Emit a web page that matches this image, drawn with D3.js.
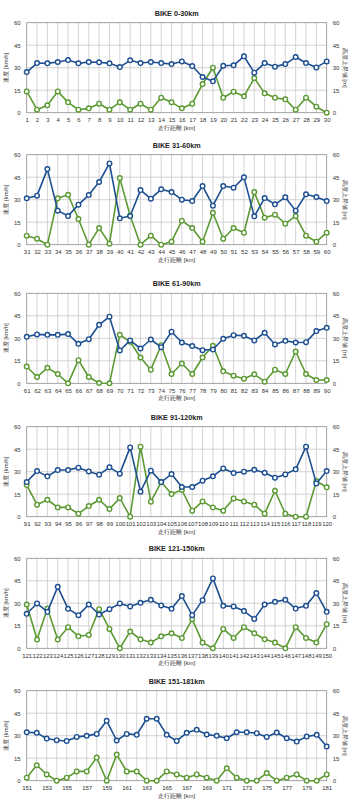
<!DOCTYPE html>
<html><head><meta charset="utf-8">
<script src="https://cdn.jsdelivr.net/npm/d3@7"></script>
<style>body{margin:0;background:#fff}svg{display:block}</style>
</head><body>
<script>
const panelTitles = ["BIKE 0-30km","BIKE 31-60km","BIKE 61-90km","BIKE 91-120km","BIKE 121-150km","BIKE 151-181km"];
const panelStartKm = [1,31,61,91,121,151];
const panelEndKm = [30,60,90,120,150,181];
const panelTickStep = [1,1,1,1,1,2];
const yTicks = [0,15,30,45,60];

const speed1 = [27.1,33.1,32.9,33.8,35.1,32.9,33.8,33.6,32.9,30.4,34.9,33.1,33.8,33.1,32.4,34.2,31.1,23.8,20.9,31.3,31.6,37.6,26.7,33.1,30.7,32.4,37.1,33.1,30.2,34.2];
const elev1  = [14.2,2,4.9,14.2,6.9,2,2.9,6,2,6.9,2,6,2,10,6.9,2.9,6,19.1,30,10,14,10.9,23.1,12.9,10,8.9,2,10,4,0];
const speed2 = [30.9,32.7,50.4,22.7,19.1,26.7,33.1,41.8,54.2,17.6,19.1,36.4,30.7,36.9,35.1,30,29.1,39.1,26,39.1,38,44.9,18.9,31.1,26.9,31.6,22.7,33.6,31.8,29.1];
const elev2  = [6,4,0,30.9,33.3,17.1,0,11.1,0.7,44.4,19.3,0,6,0,2,16,11.1,2,21.3,4,11.1,8,35.1,18,20,14,19.1,6,2,8];
const speed3 = [31,32.6,32.3,32.3,32.8,26.3,29.4,39,44.4,21.9,28.6,23.2,29.2,24.1,34.4,27.2,24.8,22.1,22.5,29.7,32.1,31.7,28.6,33.7,25.9,28.3,27.2,27.4,34.8,37];
const elev3  = [11.2,4.2,10.3,6.2,0,15.4,4.2,0.2,0,32.3,27.7,17.2,9.1,25.4,6.2,13.2,6.2,17.2,25,8,5.1,3.1,6,1.1,9.1,6.2,21.2,6.2,2.2,2.2];
const speed4 = [23.1,30.4,26.9,31.1,31.1,32.7,30.2,28,32.9,28.7,46.2,16.7,30.7,23.1,28.4,19.8,19.8,24,26.9,32.2,29.1,30,31.3,29.3,26,28.2,31.6,46.7,22.2,30.4];
const elev4  = [21.1,8,11.3,6.2,6.2,2,7.1,11.3,5.1,12.4,0,46.7,10,23.1,15.1,17.8,4,10.2,6.2,4,12.2,10.2,8,2,17.3,2,0,0,23.8,19.6];
const speed5 = [23,29.9,24.3,41,26.3,22.1,29.2,22.5,26.1,29.9,27.9,30.3,32.3,28.6,26.3,34.8,22.1,32.1,46.6,28.3,27.9,24.8,19.6,29.2,31,32.3,26.5,28.3,36.8,24.3];
const elev5  = [29.2,5.8,26.5,5.8,14.1,8,8.9,26.1,12.9,0,11.2,6,3.8,8,10,6.9,19.4,3.8,0,12.9,6.9,14.1,10,6,3.8,0,14.1,6.9,3.8,16.1];
const speed6 = [32.3,31.9,28.1,27,26.5,29.2,29.9,31.2,39.9,26.8,31.2,30.6,41.3,41.3,30.6,26.5,31.9,33.9,30.8,29.9,28.3,32.3,32.3,31.7,29.2,32.1,28.3,26.1,29.4,30.6,22.8];
const elev6  = [2,10.3,4.2,0,2,6.2,6.2,15.4,0,17.4,6.2,6.2,0,0,6.2,4.2,2,4.2,2,0,8.3,2,0,0,5.1,0,2,4.2,0,0,4.2];

const speeds = [speed1,speed2,speed3,speed4,speed5,speed6];
const elevs = [elev1,elev2,elev3,elev4,elev5,elev6];

const W = 357, H = 800;
const plotTops = [22.7,154.7,293.3,426.7,558.3,690.7];
const plotH = 90;
const left = 26.7, right = 326.7;
const blue = "#1d4f91", green = "#5b9a32";
const font = "'Liberation Sans', Arial, sans-serif";

const svg = d3.select("body").append("svg").attr("width",W).attr("height",H);

panelTitles.forEach((title,i)=>{
  const top = plotTops[i], bottom = top + plotH;
  const kms = d3.range(panelStartKm[i], panelEndKm[i]+1);
  const x = d3.scalePoint().domain(kms).range([left,right]);
  const y = d3.scaleLinear().domain([0,60]).range([bottom,top]);
  const y2 = d3.scaleLinear().domain([0,60]).range([bottom,top]);
  const g = svg.append("g");

  g.append("text").attr("x",(left+right)/2).attr("y",top-7).attr("text-anchor","middle")
    .attr("font-family",font).attr("font-weight","bold").attr("font-size",7.2).attr("fill","#222").text(title);

  // gridlines
  g.selectAll("line.hg").data(yTicks.filter(t=>t>0&&t<60)).join("line")
    .attr("x1",left).attr("x2",right).attr("y1",d=>y(d)).attr("y2",d=>y(d))
    .attr("stroke","#c8c8c8").attr("stroke-width",0.8);
  g.selectAll("line.vg").data(kms.slice(1,-1)).join("line")
    .attr("x1",d=>x(d)).attr("x2",d=>x(d)).attr("y1",top).attr("y2",bottom)
    .attr("stroke","#c8c8c8").attr("stroke-width",0.8);
  g.append("rect").attr("x",left).attr("y",top).attr("width",right-left).attr("height",plotH)
    .attr("fill","none").attr("stroke","#8c8c8c").attr("stroke-width",0.8);

  // axes
  const ax = d3.axisLeft(y).tickValues(yTicks).tickSize(0).tickPadding(6);
  const gl = g.append("g").attr("transform",`translate(${left},0)`).call(ax);
  const ar = d3.axisRight(y2).tickValues(yTicks).tickSize(0).tickPadding(6);
  const gr = g.append("g").attr("transform",`translate(${right},0)`).call(ar);
  const tickKms = kms.filter((d,j)=>j % panelTickStep[i] === 0);
  const axb = d3.axisBottom(x).tickValues(tickKms).tickSize(0).tickPadding(5);
  const gb = g.append("g").attr("transform",`translate(0,${bottom})`).call(axb);
  [gl,gr,gb].forEach(a=>{
    a.select(".domain").remove();
    a.selectAll("text").attr("font-family",font).attr("font-size",6).attr("fill","#333");
  });

  g.append("text").attr("transform",`translate(8,${top+plotH/2}) rotate(-90)`).attr("text-anchor","middle")
    .attr("font-family",font).attr("font-size",6).attr("fill","#333").text("速度 [km/h]");
  g.append("text").attr("transform",`translate(343,${top+plotH/2}) rotate(90)`).attr("text-anchor","middle")
    .attr("font-family",font).attr("font-size",6).attr("fill","#333").text("高度上昇値 [m]");
  g.append("text").attr("x",(left+right)/2).attr("y",bottom+17).attr("text-anchor","middle")
    .attr("font-family",font).attr("font-size",6).attr("fill","#333").text("走行距離 [km]");

  const series = [{v:elevs[i],c:green,s:y2},{v:speeds[i],c:blue,s:y}];
  series.forEach(sr=>{
    const pts = kms.map((k,j)=>[k,sr.v[j]]);
    g.append("path").datum(pts).attr("fill","none").attr("stroke",sr.c).attr("stroke-width",1.6)
      .attr("stroke-linejoin","round")
      .attr("d",d3.line().x(d=>x(d[0])).y(d=>sr.s(d[1])));
    g.selectAll(null).data(pts).join("circle").attr("cx",d=>x(d[0])).attr("cy",d=>sr.s(d[1]))
      .attr("r",2.3).attr("fill","#fff").attr("stroke",sr.c).attr("stroke-width",1.4);
  });
});
</script>
</body></html>
